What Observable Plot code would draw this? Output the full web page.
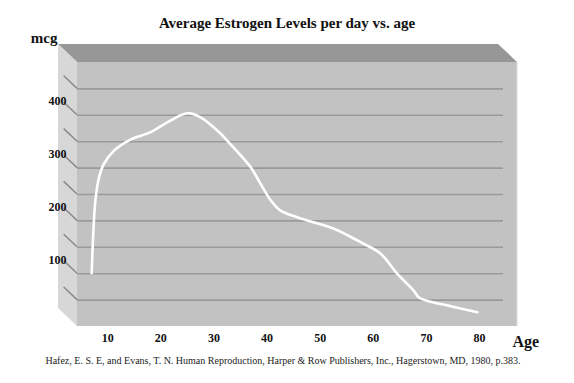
<!DOCTYPE html>
<html>
<head>
<meta charset="utf-8">
<script src="https://cdn.jsdelivr.net/npm/d3@7"></script>
<script src="https://cdn.jsdelivr.net/npm/@observablehq/plot@0.6"></script>
<style>
  html, body { margin: 0; padding: 0; background: #fff; }
  body { position: relative; width: 574px; height: 383px; overflow: hidden; font-family: "Liberation Serif", "Times New Roman", serif; }
  #title { position: absolute; left: 0; top: 14px; width: 574px; height: 18px; line-height: 18px; font-size: 15px; font-weight: bold; text-align: center; color: #111; z-index: 1; }
  #chart svg { display: block; }
  #caption { height: 18px; line-height: 18px; font-size: 10px; text-align: center; color: #222; margin-left: -8px; font-family: "Liberation Serif", "Times New Roman", serif; }
</style>
</head>
<body>
<div id="title">Average Estrogen Levels per day vs. age</div>
<div id="chart"></div>
<div id="caption">Hafez, E. S. E, and Evans, T. N. Human Reproduction, Harper &amp; Row Publishers, Inc., Hagerstown, MD, 1980, p.383.</div>
<script>
// Data
const ages = [7.0, 7.3, 7.7, 8.4, 9.3, 11.2, 14.3, 18.1, 21.8, 25.0, 27.5, 31.3, 32.5, 36.9, 38.8, 40.7, 42.5, 45.7, 52.6, 55.7, 58.5, 61.4, 64.5, 67.6, 68.6, 70.8, 73.9, 79.6];
const mcg  = [101, 176, 239, 283, 308, 333, 354, 368, 390, 404, 396, 365, 352, 302, 270, 239, 220, 207, 185, 170, 155, 138, 100, 68, 55, 47, 40, 27];

const xTicks = [10, 20, 30, 40, 50, 60, 70, 80];
const yLabels = [100, 200, 300, 400];
const gridValues = [50, 100, 150, 200, 250, 300, 350, 400, 450];

const data = ages.map((a, i) => ({age: a, mcg: mcg[i]}));

// 3D decoration (depth offset in pixels toward the viewer)
const DEPTH = [-19, -18];
const wallColors = {back: "#c2c2c2", top: "#979797", side: "#d7d7d7", grid: "#9a9a9a", diag: "#8a8a8a"};

function walls3d(index, scales, values, dims) {
  const l = dims.marginLeft, t = dims.marginTop;
  const r = dims.width - dims.marginRight, b = dims.height - dims.marginBottom;
  const [dx, dy] = DEPTH;
  const g = d3.create("svg:g");
  g.append("polygon")
    .attr("points", [[l + dx, t + dy], [r + dx, t + dy], [r, t], [l, t]].join(" "))
    .attr("fill", wallColors.top);
  g.append("polygon")
    .attr("points", [[l + dx, t + dy], [l, t], [l, b], [l + dx, b + dy]].join(" "))
    .attr("fill", wallColors.side);
  g.append("rect").attr("x", l).attr("y", t).attr("width", r - l).attr("height", b - t)
    .attr("fill", wallColors.back);
  g.append("line").attr("x1", r).attr("x2", r).attr("y1", t).attr("y2", b)
    .attr("stroke", "#dcdcdc").attr("stroke-width", 1);
  for (const v of gridValues) {
    const y = scales.y(v);
    g.append("line")
      .attr("x1", l + dx * 0.7).attr("y1", y + dy * 0.7)
      .attr("x2", l).attr("y2", y)
      .attr("stroke", wallColors.diag).attr("stroke-width", 1.5);
  }
  return g.node();
}

const chart = Plot.plot({
  width: 574,
  height: 352,
  marginLeft: 77,
  marginRight: 57,
  marginTop: 62,
  marginBottom: 26,
  style: {fontFamily: "'Liberation Serif', 'Times New Roman', serif", background: "white", color: "#111"},
  x: {domain: [0, 80], range: [54, 479], axis: null},
  y: {domain: [0, 500], axis: null},
  marks: [
    walls3d,
    Plot.ruleY(gridValues, {stroke: wallColors.grid, strokeWidth: 1.6, insetRight: 14}),
    Plot.line(data, {x: "age", y: "mcg", stroke: "white", strokeWidth: 2.6, curve: "catmull-rom"}),
    Plot.text(yLabels, {y: d => d, text: d => String(d), frameAnchor: "left", lineAnchor: "middle", dx: -11, dy: -14, textAnchor: "end", fontSize: 12, fontWeight: "bold", fill: "#111"}),
    Plot.text(xTicks, {x: d => d, text: d => String(d), frameAnchor: "bottom", lineAnchor: "middle", dy: 12, fontSize: 12, fontWeight: "bold", fill: "#111"}),
    Plot.text(["Age"], {text: d => d, frameAnchor: "bottom-right", lineAnchor: "middle", dx: -5, dy: 15, textAnchor: "start", fontSize: 16, fontWeight: "bold", fill: "#111"}),
    Plot.text(["mcg"], {text: d => d, frameAnchor: "top-left", lineAnchor: "middle", dx: -20, dy: -24, textAnchor: "end", fontSize: 15, fontWeight: "bold", fill: "#111"})
  ]
});
document.getElementById("chart").append(chart);
</script>
</body>
</html>
